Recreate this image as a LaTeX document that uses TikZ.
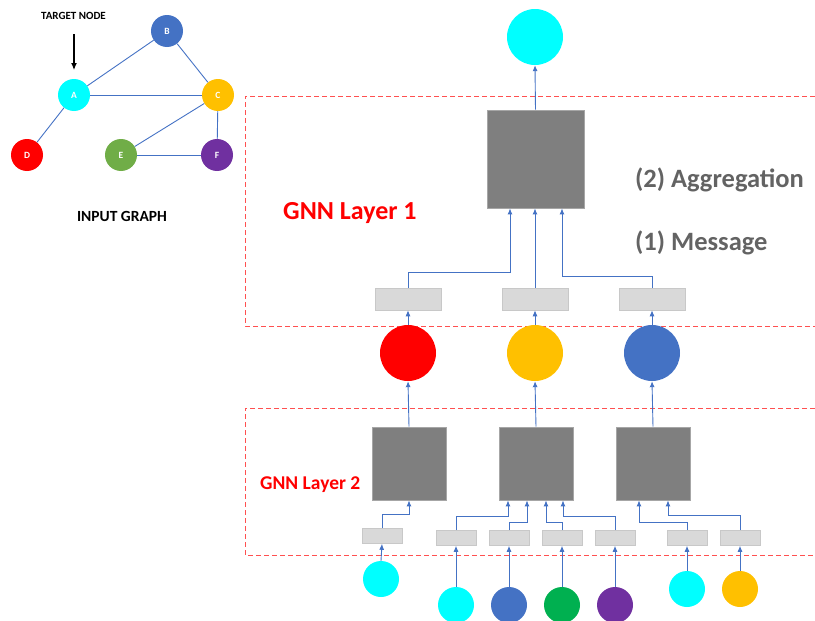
\documentclass[tikz,border=0pt]{standalone}
\usepackage{fontspec}
\setmainfont{Carlito}
\usetikzlibrary{arrows.meta}
\definecolor{cyanN}{HTML}{00FFFF}
\definecolor{blueN}{HTML}{4472C4}
\definecolor{yellowN}{HTML}{FFC000}
\definecolor{greenE}{HTML}{70AD47}
\definecolor{greenN}{HTML}{00B050}
\definecolor{purpleN}{HTML}{7030A0}
\definecolor{redN}{HTML}{FF0000}
\definecolor{aggGray}{HTML}{7F7F7F}
\definecolor{aggBorder}{HTML}{A6A6A6}
\definecolor{msgGray}{HTML}{D9D9D9}
\definecolor{msgBorder}{HTML}{C8C8C8}
\definecolor{dashRed}{HTML}{FF5050}
\definecolor{textGray}{HTML}{636363}
\tikzset{
 gnode/.style={circle, minimum size=32pt, inner sep=0pt, text=white, font=\bfseries\fontsize{9.5}{10}\selectfont},
 bignode/.style={circle, minimum size=56pt, inner sep=0pt},
 smallnode/.style={circle, minimum size=36pt, inner sep=0pt},
 aggbox/.style={rectangle, fill=aggGray, draw=aggBorder, line width=0.8pt, inner sep=0pt},
 msgbox/.style={rectangle, fill=msgGray, draw=msgBorder, line width=0.6pt, inner sep=0pt},
 gedge/.style={draw=blueN, line width=0.9pt},
 arr/.style={draw=blueN, line width=0.9pt, -{Latex[length=6pt,width=5pt]}},
 layerbox/.style={draw=dashRed, dash pattern=on 5pt off 3pt, line width=0.9pt},
}
\begin{document}
\begin{tikzpicture}[x=1pt,y=-1pt]
\useasboundingbox (0,0) rectangle (815,621);
% ---------- input graph ----------
\node[font=\bfseries\fontsize{11}{12}\selectfont] (tgt) at (73.5,16) {TARGET NODE};
\node[gnode, fill=cyanN] (A) at (74,95) {A};
\node[gnode, fill=blueN] (B) at (167,31) {B};
\node[gnode, fill=yellowN] (C) at (218,95) {C};
\node[gnode, fill=redN] (D) at (27,155) {D};
\node[gnode, fill=greenE] (E) at (121,155) {E};
\node[gnode, fill=purpleN] (F) at (217,155) {F};
\coordinate (tgtarrow) at (74,34);
\draw[line width=1.2pt, -{Latex[length=7pt,width=6pt]}] (tgtarrow) -- (74,70);
\draw[gedge] (A) -- (B);
\draw[gedge] (A) -- (C);
\draw[gedge] (A) -- (D);
\draw[gedge] (B) -- (C);
\draw[gedge] (C) -- (E);
\draw[gedge] (C) -- (F);
\draw[gedge] (E) -- (F);
\node[font=\bfseries\fontsize{15.5}{17}\selectfont] (ig) at (122,216) {INPUT GRAPH};
% ---------- layer boxes ----------
\draw[layerbox] (815,96) -- (245,96) -- (245,326) -- (815,326);
\draw[layerbox] (815,408) -- (245,408) -- (245,555) -- (815,555);
\node[anchor=west, inner xsep=0pt, text=redN, font=\bfseries\fontsize{26}{28}\selectfont] (l1) at (283,213) {GNN Layer 1};
\node[anchor=west, inner xsep=0pt, text=redN, font=\bfseries\fontsize{19.5}{21}\selectfont] (l2) at (260,485) {GNN Layer 2};
\node[anchor=west, inner xsep=0pt, text=textGray, font=\bfseries\fontsize{26.5}{28}\selectfont] (agglab) at (635,180) {(2) Aggregation};
\node[anchor=west, inner xsep=0pt, text=textGray, font=\bfseries\fontsize{26.5}{28}\selectfont] (msglab) at (635,243) {(1) Message};
% ---------- layer 1 ----------
\node[bignode, fill=cyanN] (top) at (535,37) {};
\node[aggbox, minimum width=97pt, minimum height=98pt] (agg) at (535.5,159) {};
\draw[arr] (agg.north) -- (top.south);
\node[msgbox, minimum width=66pt, minimum height=22pt] (m1) at (408,299) {};
\node[msgbox, minimum width=66pt, minimum height=22pt] (m2) at (535,299) {};
\node[msgbox, minimum width=66pt, minimum height=22pt] (m3) at (652,299) {};
\coordinate (e1) at (510,272);
\coordinate (e3) at (562,276);
\draw[arr] (m1.north) |- (e1) -- (e1 |- agg.south);
\draw[arr] (m2.north) -- (m2.north |- agg.south);
\draw[arr] (m3.north) |- (e3) -- (e3 |- agg.south);
% middle circles
\node[bignode, fill=redN] (cR) at (408,353) {};
\node[bignode, fill=yellowN] (cY) at (535,353) {};
\node[bignode, fill=blueN] (cB) at (652,353) {};
\draw[arr] (cR.north) -- (m1.south);
\draw[arr] (cY.north) -- (m2.south);
\draw[arr] (cB.north) -- (m3.south);
% ---------- layer 2 ----------
\node[aggbox, minimum width=74pt, minimum height=73pt] (b1) at (409,463.5) {};
\node[aggbox, minimum width=74pt, minimum height=73pt] (b2) at (536,463.5) {};
\node[aggbox, minimum width=74pt, minimum height=73pt] (b3) at (653,463.5) {};
\draw[arr] (b1.north) -- (cR.south);
\draw[arr] (b2.north) -- (cY.south);
\draw[arr] (b3.north) -- (cB.south);
% message boxes
\node[msgbox, minimum width=40pt, minimum height=15pt] (n1) at (382,536) {};
\node[msgbox, minimum width=40pt, minimum height=15pt] (n2) at (456,538) {};
\node[msgbox, minimum width=40pt, minimum height=15pt] (n3) at (509,538) {};
\node[msgbox, minimum width=40pt, minimum height=15pt] (n4) at (562,538) {};
\node[msgbox, minimum width=40pt, minimum height=15pt] (n5) at (615,538) {};
\node[msgbox, minimum width=40pt, minimum height=15pt] (n6) at (687,538) {};
\node[msgbox, minimum width=40pt, minimum height=15pt] (n7) at (740,538) {};
\coordinate (f1) at (409,514);
\coordinate (f2) at (508,516);
\coordinate (f3) at (527,522);
\coordinate (f4) at (546,522);
\coordinate (f5) at (563,516);
\coordinate (f6) at (639,522);
\coordinate (f7) at (668,515);
\draw[arr] (n1.north) |- (f1) -- (f1 |- b1.south);
\draw[arr] (n2.north) |- (f2) -- (f2 |- b2.south);
\draw[arr] (n3.north) |- (f3) -- (f3 |- b2.south);
\draw[arr] (n4.north) |- (f4) -- (f4 |- b2.south);
\draw[arr] (n5.north) |- (f5) -- (f5 |- b2.south);
\draw[arr] (n6.north) |- (f6) -- (f6 |- b3.south);
\draw[arr] (n7.north) |- (f7) -- (f7 |- b3.south);
% input circles
\node[smallnode, fill=cyanN] (i1) at (381,579) {};
\node[smallnode, fill=cyanN] (i2) at (456,605) {};
\node[smallnode, fill=blueN] (i3) at (509,605) {};
\node[smallnode, fill=greenN] (i4) at (562,605) {};
\node[smallnode, fill=purpleN] (i5) at (615,605) {};
\node[smallnode, fill=cyanN] (i6) at (687,589) {};
\node[smallnode, fill=yellowN] (i7) at (740,589) {};
\draw[arr] (i1.north) -- (n1.south);
\draw[arr] (i2.north) -- (n2.south);
\draw[arr] (i3.north) -- (n3.south);
\draw[arr] (i4.north) -- (n4.south);
\draw[arr] (i5.north) -- (n5.south);
\draw[arr] (i6.north) -- (n6.south);
\draw[arr] (i7.north) -- (n7.south);
\end{tikzpicture}
\end{document}
